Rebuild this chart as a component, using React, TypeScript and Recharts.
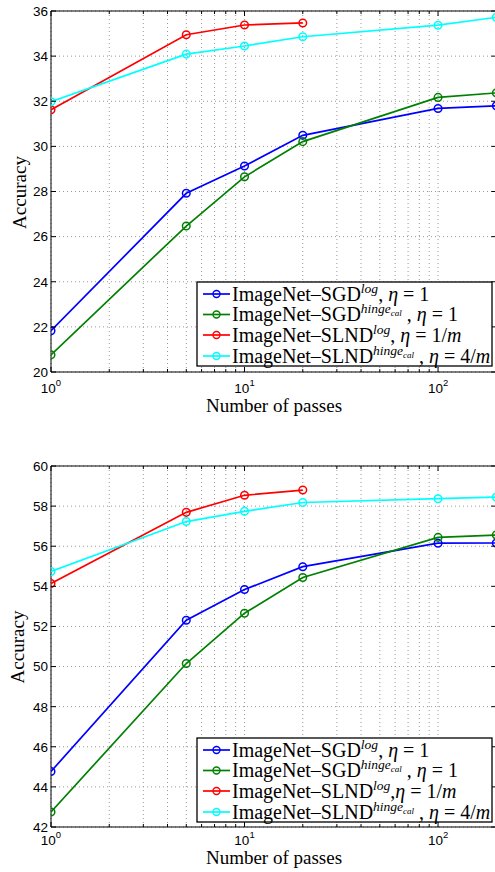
import React from 'react';
import { LineChart, Line, XAxis, YAxis, CartesianGrid, ReferenceArea } from 'recharts';

// ---------- data ----------
const passes = [1, 5, 10, 20, 100, 200];
const xTicks = [1, 2, 3, 4, 5, 6, 7, 8, 9, 10, 20, 30, 40, 50, 60, 70, 80, 90, 100, 200];
const xMajorTicks = [1, 10, 100];
const xMajorExponents = ['0', '1', '2'];

const topSgdLog = [21.83, 27.92, 29.13, 30.49, 31.68, 31.8];
const topSgdHinge = [20.76, 26.47, 28.65, 30.21, 32.17, 32.37];
const topSlndLog = [31.62, 34.95, 35.38, 35.47];
const topSlndHinge = [31.98, 34.09, 34.45, 34.86, 35.37, 35.72];
const topYTicks = [20, 22, 24, 26, 28, 30, 32, 34, 36];

const botSgdLog = [44.77, 52.31, 53.84, 54.98, 56.15, 56.16];
const botSgdHinge = [42.75, 50.15, 52.66, 54.44, 56.44, 56.56];
const botSlndLog = [54.14, 57.69, 58.54, 58.8];
const botSlndHinge = [54.74, 57.23, 57.74, 58.18, 58.37, 58.45];
const botYTicks = [42, 44, 46, 48, 50, 52, 54, 56, 58, 60];

const seriesColors = ['#0000ff', '#008000', '#ff0000', '#00ffff'];
const seriesBase = ['ImageNet–SGD', 'ImageNet–SGD', 'ImageNet–SLND', 'ImageNet–SLND'];
const seriesLoss = ['log', 'hinge', 'log', 'hinge'];
const seriesEta = ['1', '1', '1/m', '4/m'];
const topSep = [', ', ' , ', ', ', ' , '];
const botSep = [', ', ' , ', ',', ' , '];

const yLabel = 'Accuracy';
const xLabel = 'Number of passes';

// ---------- layout ----------
const PLOT_L = 51;
const PLOT_R = 496.3;
const PLOT_H = 361;
const CHART_W = 510;
const CHART_H = 430;
const MARGIN_TOP = 11;
const X_AXIS_H = 40;

const toPts = (vals: number[]) => vals.map((v, i) => ({ x: passes[i], y: v }));

const SERIF = '"Liberation Serif", "Times New Roman", serif';
const SANS = '"Liberation Sans", Arial, Helvetica, sans-serif';

function makeXTick(labelDy: number) {
  return (props: any) => {
    const { x, y, payload } = props;
    const v = payload.value;
    const mi = xMajorTicks.indexOf(v);
    const major = mi >= 0;
    const len = major ? 5 : 3;
    return (
      <g>
        <line x1={x} x2={x} y1={y} y2={y - len} stroke="#000" strokeWidth={1} />
        <line x1={x} x2={x} y1={y - PLOT_H} y2={y - PLOT_H + len} stroke="#000" strokeWidth={1} />
        {major && (
          <text x={x} y={y + labelDy} textAnchor="middle" fontFamily={SANS} fontSize={13.5} fill="#000">
            10
            <tspan dy={-7} fontSize={9.5}>{xMajorExponents[mi]}</tspan>
          </text>
        )}
      </g>
    );
  };
}

const YTick = (props: any) => {
  const { x, y, payload } = props;
  const w = PLOT_R - PLOT_L;
  return (
    <g>
      <line x1={x} x2={x + 5} y1={y} y2={y} stroke="#000" strokeWidth={1} />
      <line x1={x + w - 5} x2={x + w} y1={y} y2={y} stroke="#000" strokeWidth={1} />
      <text x={x - 3} y={y} dy="0.36em" textAnchor="end" fontFamily={SANS} fontSize={13.5} fill="#000">
        {payload.value}
      </text>
    </g>
  );
};

function Panel({ top, series, yTicks, labelDy }: { top: number; series: number[][]; yTicks: number[]; labelDy: number }) {
  const yMin = yTicks[0];
  const yMax = yTicks[yTicks.length - 1];
  return (
    <div style={{ position: 'absolute', left: 0, top }}>
      <LineChart
        width={CHART_W}
        height={CHART_H}
        margin={{ top: MARGIN_TOP, left: 0, right: CHART_W - PLOT_R, bottom: CHART_H - MARGIN_TOP - PLOT_H - X_AXIS_H }}
      >
        <CartesianGrid stroke="#9a9a9a" strokeDasharray="1 3" strokeWidth={1} />
        <XAxis
          type="number"
          dataKey="x"
          scale="log"
          domain={[1, 200]}
          ticks={xTicks}
          interval={0}
          height={X_AXIS_H}
          tickSize={0}
          tickMargin={0}
          axisLine={false}
          tickLine={false}
          allowDataOverflow
          tick={makeXTick(labelDy)}
        />
        <YAxis
          type="number"
          domain={[yMin, yMax]}
          ticks={yTicks}
          interval={0}
          width={PLOT_L}
          tickSize={0}
          tickMargin={0}
          axisLine={false}
          tickLine={false}
          allowDataOverflow
          tick={YTick}
        />
        <ReferenceArea x1={1} x2={200} y1={yMin} y2={yMax} fill="none" fillOpacity={0} stroke="#000" strokeWidth={1} />
        {series.map((vals, i) => (
          <Line
            key={i}
            data={toPts(vals)}
            dataKey="y"
            type="linear"
            stroke={seriesColors[i]}
            strokeWidth={1.7}
            dot={{ r: 3.8, stroke: seriesColors[i], strokeWidth: 1.5, fill: 'none' }}
            activeDot={false}
            isAnimationActive={false}
          />
        ))}
      </LineChart>
    </div>
  );
}

function Legend({ boxTop, seps }: { boxTop: number; seps: string[] }) {
  const left = 197;
  const width = 295;
  const height = 84;
  const rows = [12, 32.5, 53, 74];
  return (
    <g>
      <rect x={left} y={boxTop} width={width} height={height} fill="#fff" stroke="#000" strokeWidth={1.3} />
      {rows.map((dy, i) => {
        const cy = boxTop + dy;
        const c = seriesColors[i];
        return (
          <g key={i}>
            <line x1={203} x2={230} y1={cy} y2={cy} stroke={c} strokeWidth={1.7} />
            <circle cx={216.5} cy={cy} r={3.5} fill="none" stroke={c} strokeWidth={1.4} />
            <text x={232} y={cy + 6.8} fontFamily={SERIF} fontSize={20} fill="#000" style={{ whiteSpace: 'pre' }}>
              {seriesBase[i]}
              {seriesLoss[i] === 'log' ? (
                <>
                  <tspan dy={-8} fontSize={13.5} fontStyle="italic">log</tspan>
                  <tspan dy={8}>{seps[i]}</tspan>
                </>
              ) : (
                <>
                  <tspan dy={-8} fontSize={13.5} fontStyle="italic">hinge</tspan>
                  <tspan dy={3} fontSize={9} fontStyle="italic">cal</tspan>
                  <tspan dy={5}>{seps[i]}</tspan>
                </>
              )}
              <tspan fontStyle="italic">η</tspan>
              <tspan>{' = '}</tspan>
              {seriesEta[i].includes('m') ? (
                <>
                  <tspan>{seriesEta[i].replace('m', '')}</tspan>
                  <tspan fontStyle="italic">m</tspan>
                </>
              ) : (
                <tspan>{seriesEta[i]}</tspan>
              )}
            </text>
          </g>
        );
      })}
    </g>
  );
}

export default function App() {
  const topChartTop = 0;
  const botChartTop = 454.7;
  return (
    <div style={{ position: 'absolute', left: 0, top: 0, width: 495, height: 872, overflow: 'hidden', background: '#fff' }}>
      <Panel top={topChartTop} series={[topSgdLog, topSgdHinge, topSlndLog, topSlndHinge]} yTicks={topYTicks} labelDy={20.5} />
      <Panel top={botChartTop} series={[botSgdLog, botSgdHinge, botSlndLog, botSlndHinge]} yTicks={botYTicks} labelDy={18} />
      <svg width={495} height={872} style={{ position: 'absolute', left: 0, top: 0, pointerEvents: 'none' }}>
        <text x={20} y={192.5} transform="rotate(-90 20 192.5)" textAnchor="middle" dy="0.3em" fontFamily={SERIF} fontSize={19} fill="#000">
          {yLabel}
        </text>
        <text x={18.5} y={647} transform="rotate(-90 18.5 647)" textAnchor="middle" dy="0.3em" fontFamily={SERIF} fontSize={19} fill="#000">
          {yLabel}
        </text>
        <text x={274} y={411.5} textAnchor="middle" fontFamily={SERIF} fontSize={19} fill="#000">
          {xLabel}
        </text>
        <text x={274} y={863.5} textAnchor="middle" fontFamily={SERIF} fontSize={19} fill="#000">
          {xLabel}
        </text>
        <Legend boxTop={282} seps={topSep} />
        <Legend boxTop={738} seps={botSep} />
      </svg>
    </div>
  );
}
